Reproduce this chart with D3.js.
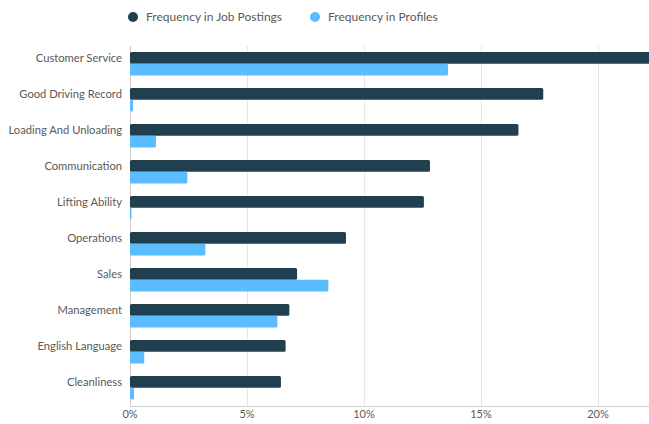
<!DOCTYPE html>
<html>
<head>
<meta charset="utf-8">
<script src="https://cdn.jsdelivr.net/npm/d3@7"></script>
<style>
  body { margin: 0; background: #fff; }
  svg { display: block; font-family: Lato, "Open Sans", sans-serif; }
</style>
</head>
<body>
<div id="chart"></div>
<script>
// Skill names, top to bottom
const skills = [
  'Customer Service', 'Good Driving Record', 'Loading And Unloading',
  'Communication', 'Lifting Ability', 'Operations', 'Sales',
  'Management', 'English Language', 'Cleanliness'
];
// Percent values
const jobPostings = [23.0, 17.66, 16.6, 12.82, 12.56, 9.23, 7.14, 6.81, 6.65, 6.45];
const profiles = [13.59, 0.13, 1.11, 2.45, 0.05, 3.22, 8.48, 6.30, 0.61, 0.17];
const xTicks = [0, 5, 10, 15, 20];
const seriesNames = ['Frequency in Job Postings', 'Frequency in Profiles'];
const seriesColors = ['#21404f', '#5bbcff'];

const W = 649, H = 424;
const margin = { top: 46, left: 130, bottom: 18 };

const svg = d3.select('#chart').append('svg')
  .attr('width', W).attr('height', H);

// x: 0% at 130px, 23.4px per percent; runs past the right edge (clipped)
const x = d3.scaleLinear().domain([0, 25]).range([margin.left, margin.left + 25 * 23.4]);
const y = d3.scaleBand().domain(skills).range([margin.top, H - margin.bottom]);
const yInner = d3.scaleBand().domain([0, 1]).range([6, 29.5]);

// ── Grid ───────────────────────────────────────────────────────
svg.append('g')
  .selectAll('line')
  .data(xTicks)
  .join('line')
  .attr('x1', (d) => Math.round(x(d)) + 0.5)
  .attr('x2', (d) => Math.round(x(d)) + 0.5)
  .attr('y1', margin.top)
  .attr('y2', H - margin.bottom)
  .attr('stroke', (d) => d === 0 ? '#d0d0d0' : '#e6e6e6')
  .attr('stroke-width', 1);

// ── Bars ───────────────────────────────────────────────────────
const series = [jobPostings, profiles];
const rows = svg.append('g')
  .selectAll('g')
  .data(skills)
  .join('g')
  .attr('transform', (d) => `translate(0,${y(d)})`);

rows.each(function (skill, i) {
  const g = d3.select(this);
  series.forEach((vals, s) => {
    const v = vals[i];
    const w = Math.max(x(v) - x(0), 1.5);
    g.append('rect')
      .attr('x', x(0))
      .attr('y', yInner(s))
      .attr('width', w)
      .attr('height', yInner.bandwidth())
      .attr('rx', 1.5)
      .attr('fill', seriesColors[s]);
  });
});

// bottom axis line
svg.append('line')
  .attr('x1', x(0)).attr('x2', W)
  .attr('y1', H - margin.bottom + 0.5).attr('y2', H - margin.bottom + 0.5)
  .attr('stroke', '#d0d0d0');

// ── Labels ─────────────────────────────────────────────────────
svg.append('g')
  .selectAll('text')
  .data(skills)
  .join('text')
  .attr('x', margin.left - 8)
  .attr('y', (d) => y(d) + yInner(0) + yInner.bandwidth() / 2)
  .attr('dy', '0.35em')
  .attr('text-anchor', 'end')
  .attr('font-size', 11.2)
  .attr('fill', '#5a5a5a')
  .text((d) => d);

svg.append('g')
  .selectAll('text')
  .data(xTicks)
  .join('text')
  .attr('x', (d) => x(d))
  .attr('y', H - 6)
  .attr('text-anchor', 'middle')
  .attr('font-size', 11)
  .attr('fill', '#5a5a5a')
  .text((d) => d + '%');

// ── Legend ─────────────────────────────────────────────────────
const legendX = [133, 315];
const legend = svg.append('g')
  .selectAll('g')
  .data(seriesNames)
  .join('g')
  .attr('transform', (d, i) => `translate(${legendX[i]},17)`);

legend.append('circle')
  .attr('r', 5)
  .attr('fill', (d, i) => seriesColors[i]);

legend.append('text')
  .attr('x', 13)
  .attr('dy', '0.35em')
  .attr('font-size', 12)
  .attr('fill', '#5a5a5a')
  .text((d) => d);
</script>
</body>
</html>
